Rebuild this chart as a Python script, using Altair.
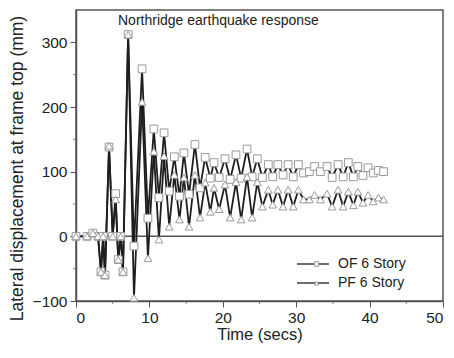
import altair as alt
import pandas as pd

series = ["OF 6 Story", "PF 6 Story"]
marker_keys = ["OF 6 Story ", "PF 6 Story "]

of_t = [0, 1.5, 2.3, 3.0, 3.4, 3.7, 3.95, 4.5, 5.0, 5.4, 5.75, 6.1, 6.4, 7.1, 7.9, 9.0, 9.8, 10.6, 11.3,
        12.0, 12.7, 13.4, 14.1, 14.7, 15.4, 16.2, 16.9, 17.6, 18.3, 18.8, 19.5, 20.3, 21.0, 21.8, 22.5,
        23.3, 24.0, 24.7, 25.4, 26.2, 26.8, 27.5, 28.2, 28.9, 29.6, 30.3, 31.0, 31.8, 32.5, 33.3, 34.2,
        34.9, 35.7, 36.4, 37.1, 37.8, 38.4, 39.1, 39.8, 40.5, 41.2, 41.9]
of_v = [0, 0, 5, 0, -55, 0, -60, 138, 0, 66, -36, 0, -55, 312, -15, 259, 28, 166, 60,
        160, 70, 123, 62, 129, 65, 142, 75, 122, 90, 114, 91, 120, 88, 126, 90,
        135, 92, 120, 91, 111, 92, 111, 95, 111, 92, 111, 98, 100, 108, 100, 108,
        91, 111, 92, 114, 92, 108, 94, 106, 98, 102, 100]

pf_t = [0, 1.5, 2.3, 3.0, 3.4, 3.7, 3.95, 4.5, 5.0, 5.4, 5.75, 6.1, 6.4, 7.1, 7.9, 9.0, 9.8, 10.6, 11.3,
        12.0, 12.7, 13.4, 14.1, 14.7, 15.4, 16.2, 16.9, 17.6, 18.3, 18.8, 19.5, 20.3, 21.0, 21.8, 22.5,
        23.3, 24.0, 24.7, 25.4, 26.2, 26.8, 27.5, 28.2, 28.9, 29.6, 30.3, 31.0, 31.8, 32.5, 33.3, 34.2,
        34.9, 35.7, 36.4, 37.1, 37.8, 38.4, 39.1, 39.8, 40.5, 41.2, 41.9]
pf_v = [0, 0, 5, 0, -55, 0, -60, 140, 0, 57, -36, 0, -55, 312, -95, 208, -34, 131, -5,
        124, 15, 95, 26, 91, 15, 95, 29, 83, 38, 75, 42, 80, 29, 84, 26,
        92, 29, 84, 46, 72, 49, 72, 46, 72, 46, 72, 57, 57, 64, 57, 66,
        46, 72, 46, 69, 48, 69, 52, 64, 54, 60, 57]

x_major = [0, 10, 20, 30, 40, 50]
x_minor = [5, 15, 25, 35, 45]
y_major = [-100, 0, 100, 200, 300]
y_minor = [-50, 50, 150, 250]

rows = []
for name, key, ts, vs in [(series[0], marker_keys[0], of_t, of_v), (series[1], marker_keys[1], pf_t, pf_v)]:
    for i, (t, v) in enumerate(zip(ts, vs)):
        rows.append({"t": t, "v": v, "s": name, "m": key, "o": i})
df = pd.DataFrame(rows)

FONT = "Liberation Sans"
AX = "#555555"
LINE = "#1e1e1e"
MK = "#9a9a9a"
TXT = "#222222"

xs = alt.Scale(domain=[0, 50], nice=False)
ys = alt.Scale(domain=[-100, 350], nice=False)

x_axis = alt.Axis(values=x_major, title="Time (secs)", format="d", grid=False,
                  tickSize=6, labelPadding=3, titlePadding=1)
y_axis = alt.Axis(values=y_major, title="Lateral displacement at frame top (mm)", format="d",
                  grid=False, tickSize=6, labelPadding=3, titleX=-59, titleY=158,
                  titleAlign="center", titleBaseline="middle", titleAngle=270,
                  titleFontSize=17.5)

zero = alt.Chart(pd.DataFrame({"z": [0]})).mark_rule(color=AX, strokeWidth=1.5).encode(
    y=alt.Y("z:Q", scale=ys, axis=y_axis))

lines = alt.Chart(df).mark_line(strokeWidth=1.8).encode(
    x=alt.X("t:Q", scale=xs, axis=x_axis),
    y=alt.Y("v:Q", scale=ys, axis=y_axis),
    order="o:Q",
    color=alt.Color("s:N", scale=alt.Scale(domain=series, range=[LINE, LINE]),
                    legend=alt.Legend(orient="none", legendX=230, legendY=247, title=None,
                                      symbolType="M-4,0H4", symbolSize=64, symbolStrokeWidth=1.3,
                                      symbolStrokeColor="#444444",
                                      labelFontSize=14, labelFont=FONT, labelColor=TXT,
                                      labelOffset=18, rowPadding=5, padding=0)),
)

points = alt.Chart(df).mark_point(filled=False, size=60, strokeWidth=1, fill="white",
                                  fillOpacity=1, opacity=1).encode(
    x=alt.X("t:Q", scale=xs),
    y=alt.Y("v:Q", scale=ys),
    stroke=alt.Stroke("m:N", scale=alt.Scale(domain=marker_keys, range=[MK, MK]), legend=None),
    shape=alt.Shape("m:N", scale=alt.Scale(domain=marker_keys, range=["square", "triangle-up"]),
                    legend=alt.Legend(orient="none", legendX=233.5, legendY=247, title=None,
                                      symbolSize=20, symbolFillColor="white",
                                      symbolStrokeWidth=1,
                                      labelFontSize=14, labelFont=FONT, labelExpr="''",
                                      labelOffset=18, rowPadding=5, padding=0)),
)

xminor = alt.Chart(pd.DataFrame({"m": x_minor})).mark_tick(
    orient="vertical", size=3, thickness=1, color=AX, yOffset=1.5).encode(
    x=alt.X("m:Q", scale=xs), y=alt.YDatum(-100))

yminor = alt.Chart(pd.DataFrame({"m": y_minor})).mark_tick(
    orient="horizontal", size=3, thickness=1, color=AX, xOffset=-1.5).encode(
    y=alt.Y("m:Q", scale=ys), x=alt.XDatum(0))

chart = alt.layer(zero, lines, points, xminor, yminor).properties(
    width=367, height=291,
    autosize="none",
    padding={"left": 68, "top": 2, "right": 3, "bottom": 43},
    title=alt.Title("Northridge earthquake response", anchor="start", frame="group",
                    dx=42, dy=29, offset=0, baseline="alphabetic", fontSize=14,
                    fontWeight="normal", font=FONT, color=TXT),
).configure_view(stroke=AX, strokeWidth=1.5).configure_axis(
    domainColor=AX, domainWidth=1.5, tickColor=AX, tickWidth=1,
    labelFont=FONT, labelFontSize=15.5, labelColor=TXT,
    titleFont=FONT, titleFontSize=16.5, titleFontWeight="normal", titleColor=TXT,
).configure_legend(labelLimit=0)

chart.save("out.html", embed_options={"renderer": "svg", "actions": False})
